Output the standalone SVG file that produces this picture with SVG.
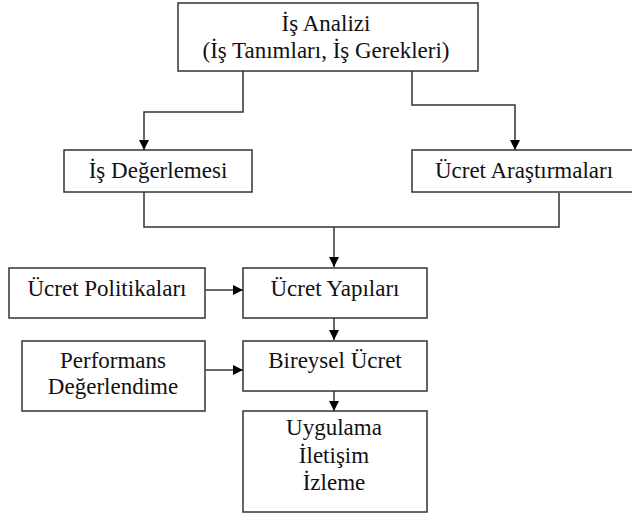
<svg xmlns="http://www.w3.org/2000/svg" width="632" height="516" viewBox="0 0 632 516" font-family="Liberation Serif, Times New Roman, serif">
<style>
.box{fill:#fff;stroke:#333;stroke-width:1.5}
.c{fill:none;stroke:#333;stroke-width:1.5}
text{font-family:"Liberation Serif","Times New Roman",serif;font-size:23px;fill:#111;text-anchor:middle}
</style>
<defs>
<marker id="ah" viewBox="0 0 10 10" refX="10" refY="5" markerWidth="10" markerHeight="10" markerUnits="userSpaceOnUse" orient="auto">
<path d="M0,0 L10,5 L0,10 Z" fill="#000"/>
</marker>
</defs>
<rect width="632" height="516" fill="#fff"/>
<g id="connectors">
<path class="c" d="M243,71 V112 H144 V150" marker-end="url(#ah)"/>
<path class="c" d="M412,71 V105 H515 V150" marker-end="url(#ah)"/>
<path class="c" d="M144,192 V227 H559 V193"/>
<path class="c" d="M334,227 V267" marker-end="url(#ah)"/>
<path class="c" d="M205,290 H243" marker-end="url(#ah)"/>
<path class="c" d="M334,318 V340" marker-end="url(#ah)"/>
<path class="c" d="M205,370 H243" marker-end="url(#ah)"/>
<path class="c" d="M334,391 V411" marker-end="url(#ah)"/>
</g>
<g id="is-analizi">
<rect class="box" x="178" y="3" width="300" height="68"/>
<text x="326" y="31">İş Analizi</text>
<text x="326" y="58">(İş Tanımları, İş Gerekleri)</text>
</g>
<g id="is-degerlemesi">
<rect class="box" x="64" y="150" width="188" height="42"/>
<text x="158" y="178">İş Değerlemesi</text>
</g>
<g id="ucret-arastirmalari">
<rect class="box" x="412" y="150" width="226" height="42"/>
<text x="524" y="178">Ücret Araştırmaları</text>
</g>
<g id="ucret-politikalari">
<rect class="box" x="9" y="268" width="196" height="50"/>
<text x="107" y="296">Ücret Politikaları</text>
</g>
<g id="ucret-yapilari">
<rect class="box" x="243" y="268" width="184" height="50"/>
<text x="335" y="296">Ücret Yapıları</text>
</g>
<g id="performans">
<rect class="box" x="22" y="341" width="183" height="70"/>
<text x="113" y="368">Performans</text>
<text x="113" y="394">Değerlendime</text>
</g>
<g id="bireysel-ucret">
<rect class="box" x="243" y="341" width="184" height="50"/>
<text x="335" y="368">Bireysel Ücret</text>
</g>
<g id="uygulama">
<rect class="box" x="243" y="411" width="184" height="101"/>
<text x="334" y="435">Uygulama</text>
<text x="334" y="463">İletişim</text>
<text x="334" y="490">İzleme</text>
</g>
</svg>
